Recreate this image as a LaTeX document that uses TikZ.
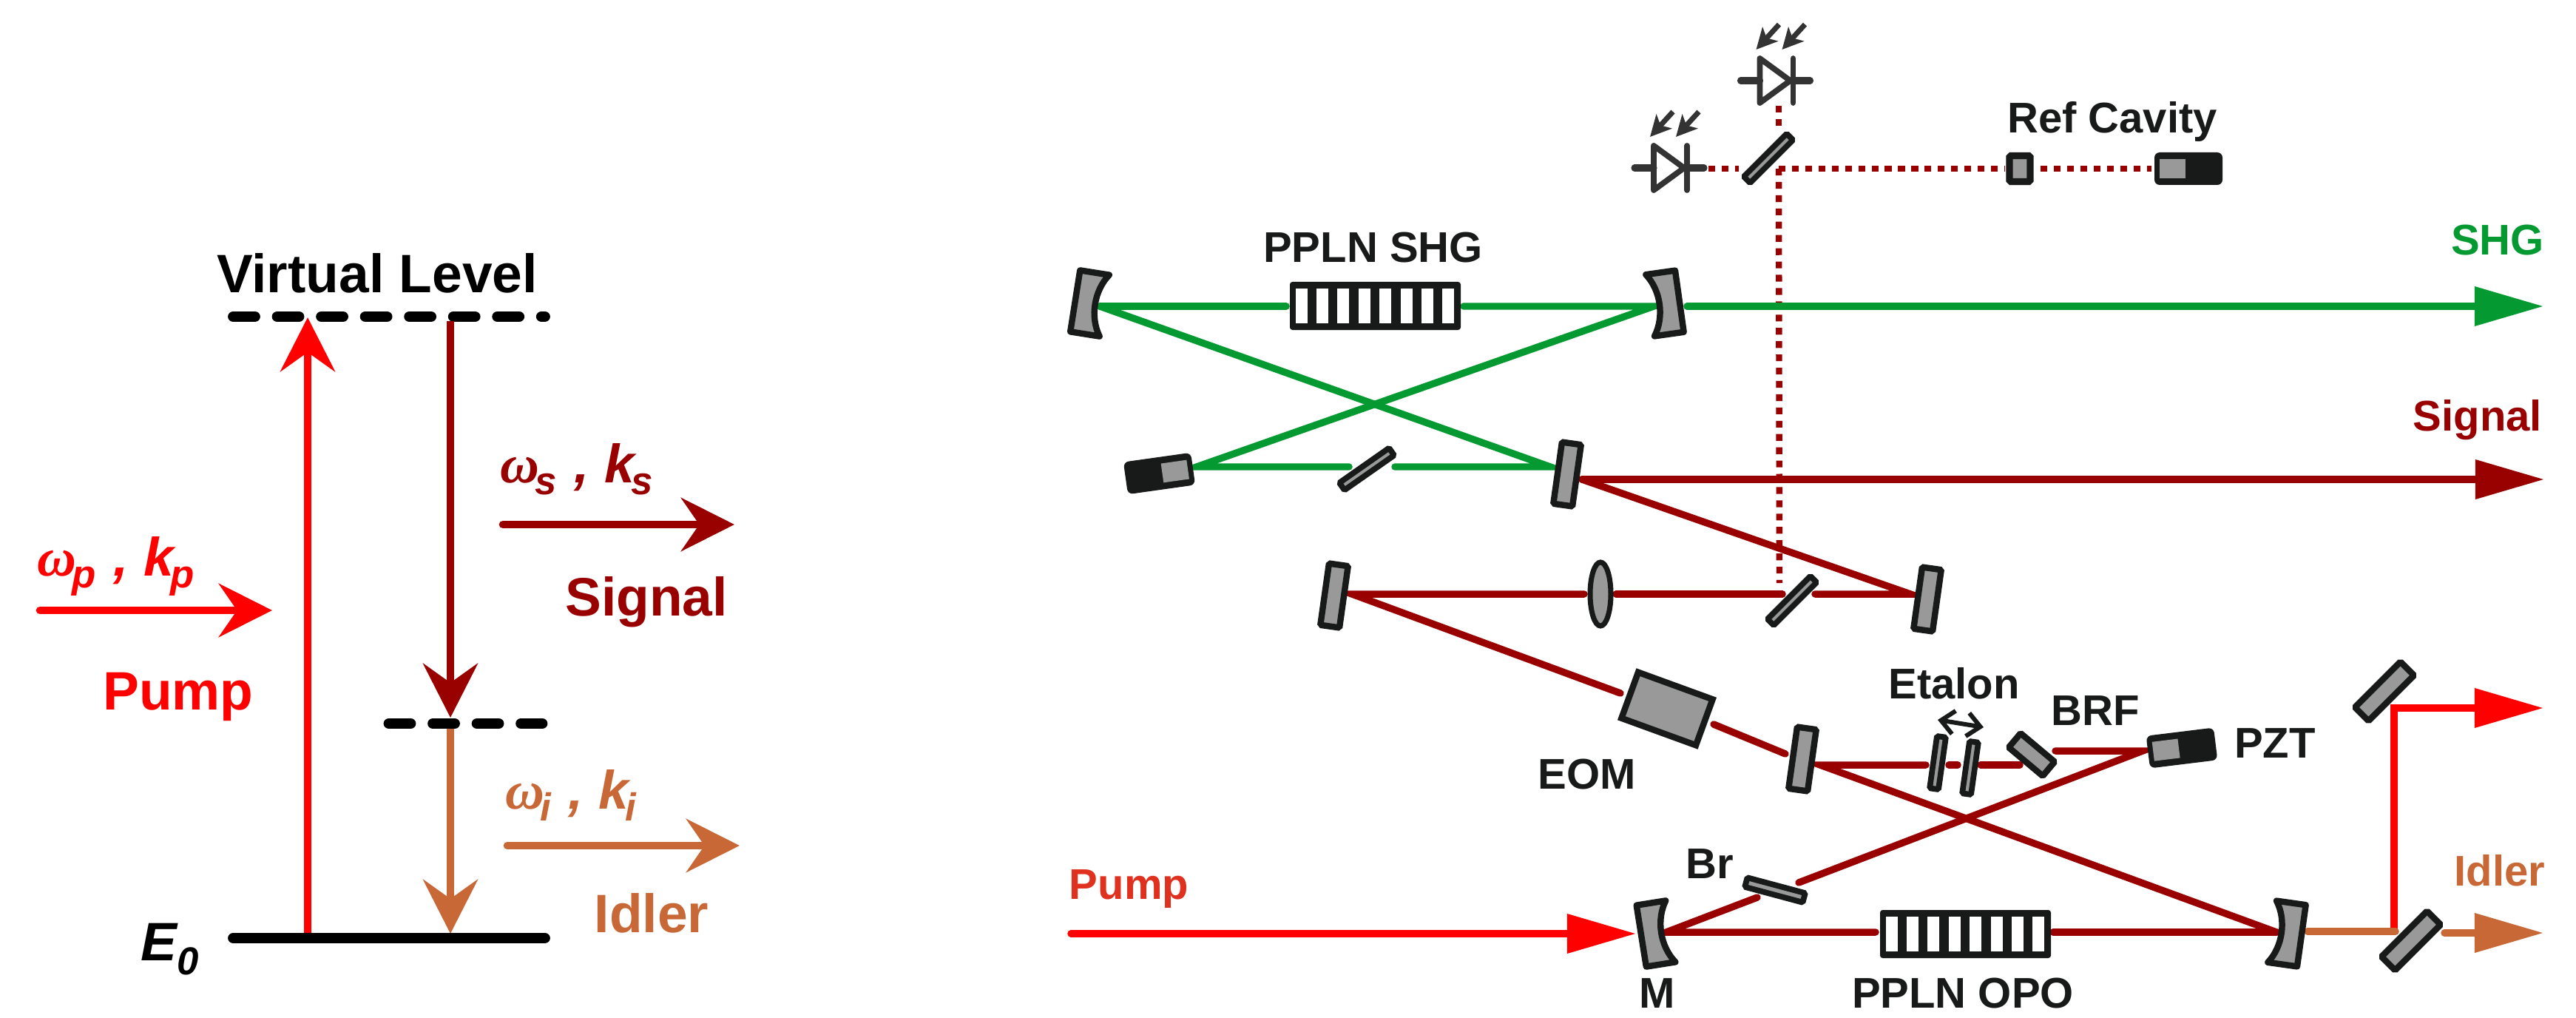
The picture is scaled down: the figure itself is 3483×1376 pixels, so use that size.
\documentclass[tikz,border=0pt]{standalone}
\usepackage{fontspec}
\setmainfont{Liberation Sans}
\newfontfamily\greekfont{Liberation Serif}
\usetikzlibrary{arrows.meta,shapes.geometric}
\definecolor{pumpred}{RGB}{255, 0, 0}
\definecolor{labelred}{RGB}{224, 48, 30}
\definecolor{signalred}{RGB}{153, 0, 0}
\definecolor{idlerorange}{RGB}{200, 104, 54}
\definecolor{shggreen}{RGB}{5, 153, 50}
\definecolor{bodydark}{RGB}{24, 26, 25}
\definecolor{bodygray}{RGB}{153, 153, 153}
\definecolor{diodedark}{RGB}{51, 51, 51}

\newcommand{\subfont}{\fontsize{15}{16}\selectfont}
\newcommand{\wavelabel}[1]{{\greekfont ω}\hspace{-0.08em}\raisebox{-0.23em}{\subfont #1}\hspace{0.32em},\hspace{0.28em}k\hspace{-0.06em}\raisebox{-0.23em}{\subfont #1}}

\tikzset{
  biglabel/.style={inner sep=0, anchor=base, font=\fontsize{20.8}{25}\selectfont\bfseries},
  wavetext/.style={inner sep=0, anchor=base west, font=\fontsize{20.8}{25}\selectfont\bfseries\itshape},
  partlabel/.style={inner sep=0, anchor=base, text=bodydark, font=\fontsize{16.5}{20}\selectfont\bfseries},
  levelline/.style={black, line width=4.2pt, line cap=round},
  levelarrow/.style={line width=3.1pt, -{Stealth[length=20.8pt,width=21pt,inset=7.4pt]}},
  smallarrow/.style={line width=3pt, line cap=round, -{Stealth[length=20.5pt,width=20.5pt,inset=7pt]}},
  beam/.style={line width=2.7pt, line cap=round},
  dotbeam/.style={signalred, line width=2.4pt, dash pattern=on 2.6pt off 2.5pt},
  outarrow/.style={beam, -{Triangle[length=26.5pt,width=14.6pt]}},
  optic/.style={draw=bodydark, fill=bodygray, inner sep=0, line width=2.4pt, rounded corners=0.5pt},
  flatmirror/.style={optic, minimum width=0.26cm, minimum height=0.84cm},
  dichroic/.style={optic, minimum width=0.26cm, minimum height=0.87cm},
  thinplate/.style={optic, line width=2.2pt, minimum width=0.12cm, minimum height=0.82cm},
  etalonplate/.style={optic, line width=2.2pt, minimum width=0.12cm, minimum height=0.71cm},
  crystal/.pic={
    \fill[bodydark, rounded corners=1pt] (-115.5,-32.5) rectangle (115.5,32.5);
    \foreach \w in {0,...,7} {
      \fill[white] (-108+28.4*\w,-23.5) rectangle (-92+28.4*\w,23.5);
    }
  },
  curvedmirror/.pic={
    \draw[draw=bodydark, fill=bodygray, line width=2.4pt, line join=round]
      (-20,-42) -- (20,-42) .. controls (3,-18) and (3,18) .. (20,42) -- (-20,42) -- cycle;
  },
  blockhead/.pic={
    \fill[bodydark, rounded corners=2pt] (-46,-22) rectangle (46,22);
    \fill[bodygray] (-39,-13) rectangle (-4,13);
  },
  photodiode/.pic={
    \draw[diodedark, line width=2.6pt, line cap=round] (-47,0) -- (-21,0) (24,0) -- (47,0);
    \draw[diodedark, line width=2.2pt, line join=round, line cap=round] (-21,-30) -- (20,0) -- (-21,30) -- cycle;
    \draw[diodedark, line width=2.2pt, line cap=round] (24,-30) -- (24,30);
    \foreach \a in {0,35} {
      \draw[diodedark, line width=2pt, -{Stealth[length=8pt,width=8pt,inset=2pt]}]
        (5+\a,-76) -- (-26+\a,-42);
    }
  }
}

\begin{document}
\begin{tikzpicture}[x=0.01cm, y=-0.01cm]
\useasboundingbox (0,0) rectangle (3483,1376);

% Energy levels
\coordinate (vl) at (315.5,428);
\coordinate (vr) at (736.5,428);
\coordinate (ml) at (526,978);
\coordinate (mr) at (733,978);
\coordinate (gl) at (315.5,1268);
\coordinate (gr) at (736.5,1268);
\draw[levelline, dash pattern=on 8.25pt off 8.68pt] (vl) -- (vr);
\draw[levelline, dash pattern=on 8.25pt off 8.68pt] (ml) -- (mr);
\coordinate (pa) at (416,1262);
\coordinate (pb) at (416,429);
\coordinate (sa) at (609,434);
\coordinate (sb) at (609,970);
\coordinate (ia) at (609,985);
\coordinate (ib) at (609,1262);
\draw[levelarrow, pumpred] (pa) -- (pb);
\draw[levelarrow, signalred] (sa) -- (sb);
\draw[levelarrow, idlerorange] (ia) -- (ib);
\draw[levelline] (gl) -- (gr);

% Level arrows and their labels
\coordinate (wpa) at (54,825);
\coordinate (wpb) at (368,825);
\coordinate (wsa) at (680,709);
\coordinate (wsb) at (993,709);
\coordinate (wia) at (686,1143);
\coordinate (wib) at (1000,1143);
\draw[smallarrow, pumpred] (wpa) -- (wpb);
\draw[smallarrow, signalred] (wsa) -- (wsb);
\draw[smallarrow, idlerorange] (wia) -- (wib);
\node[biglabel] (lvirtual) at (510,396) {Virtual Level};
\node[biglabel, text=pumpred] (lpump) at (241,959) {Pump};
\node[biglabel, text=signalred] (lsignal) at (874,832) {Signal};
\node[biglabel, text=idlerorange] (lidler) at (881,1260) {Idler};
\node[wavetext, text=pumpred] (lwp) at (50,778) {\wavelabel{p}};
\node[wavetext, text=signalred] (lws) at (676,652) {\wavelabel{s}};
\node[wavetext, text=idlerorange] (lwi) at (683,1093) {\wavelabel{i}};
\node[wavetext] (lzero) at (190,1298) {E\raisebox{-0.27em}{\subfont 0}};

% Reference arm
\coordinate (d1) at (2405,228);
\coordinate (d2) at (2711,228);
\coordinate (d3) at (2759,228);
\coordinate (d4) at (2909,228);
\coordinate (d5) at (2310,228);
\coordinate (d6) at (2351,228);
\coordinate (d7) at (2405,143);
\coordinate (d8) at (2405,175);
\coordinate (d9) at (2406,788);
\draw[dotbeam] (d1) -- (d2);
\draw[dotbeam] (d3) -- (d4);
\draw[dotbeam] (d5) -- (d6);
\draw[dotbeam] (d7) -- (d8);
\draw[dotbeam] (d1) -- (d9);

% SHG cavity
\coordinate (g1) at (1487,414);
\coordinate (g2) at (1739,414);
\coordinate (g3) at (1979,414);
\coordinate (g4) at (2236,414);
\coordinate (g5) at (2281,414);
\coordinate (g6) at (3439,414);
\coordinate (g7) at (2096,631);
\coordinate (g8) at (1618,631);
\coordinate (g9) at (1824,631);
\coordinate (g10) at (1886,631);
\draw[beam, shggreen] (g1) -- (g2);
\draw[beam, shggreen] (g3) -- (g4) -- (g8) -- (g9);
\draw[beam, shggreen] (g10) -- (g7) -- (g1);
\draw[outarrow, shggreen] (g5) -- (g6);

% Signal path
\coordinate (r1) at (2139,648);
\coordinate (r2) at (3440,648);
\coordinate (r3) at (2583,803);
\coordinate (r4) at (2454,803);
\coordinate (r5) at (2410,803);
\coordinate (r6) at (2185,803);
\coordinate (r7) at (2142,803);
\coordinate (r8) at (1828,803);
\coordinate (r9) at (2191,937);
\coordinate (r10) at (2317,979);
\coordinate (r11) at (2414,1019);
\draw[outarrow, signalred] (r1) -- (r2);
\draw[beam, signalred] (r1) -- (r3) -- (r4);
\draw[beam, signalred] (r5) -- (r6);
\draw[beam, signalred] (r7) -- (r8) -- (r9);
\draw[beam, signalred] (r10) -- (r11);

% OPO cavity
\coordinate (o1) at (2461,1034);
\coordinate (o2) at (2604,1034);
\coordinate (o3) at (2635,1034);
\coordinate (o4) at (2647,1034);
\coordinate (o5) at (2678,1034);
\coordinate (o6) at (2731,1034);
\coordinate (o7) at (2779,1015);
\coordinate (o8) at (2897,1015);
\coordinate (o9) at (2432,1193);
\coordinate (o10) at (2376,1213);
\coordinate (o11) at (2253,1260);
\coordinate (o12) at (2536,1260);
\coordinate (o13) at (2776,1260);
\coordinate (o14) at (3078,1260);
\draw[beam, signalred] (o14) -- (o1) -- (o2);
\draw[beam, signalred] (o3) -- (o4);
\draw[beam, signalred] (o5) -- (o6);
\draw[beam, signalred] (o7) -- (o8) -- (o9);
\draw[beam, signalred] (o10) -- (o11) -- (o12);
\draw[beam, signalred] (o13) -- (o14);

% Pump and idler outputs
\coordinate (p1) at (1448,1262);
\coordinate (p2) at (2212,1262);
\coordinate (p3) at (3237,1255);
\coordinate (p4) at (3439,957);
\coordinate (i1) at (3120,1259);
\coordinate (i2) at (3239,1259);
\coordinate (i3) at (3305,1261);
\coordinate (i4) at (3439,1261);
\draw[outarrow, pumpred] (p1) -- (p2);
\draw[outarrow, pumpred] (p3) |- (p4);
\draw[beam, idlerorange] (i1) -- (i2);
\draw[outarrow, idlerorange] (i3) -- (i4);

% Curved mirrors
\pic[rotate=-9] (mc1) at (1473.5,410) {curvedmirror};
\pic[rotate=8, xscale=-1] (mc2) at (2251,410) {curvedmirror};
\pic[rotate=-8, xscale=-1] (mc3) at (3092,1262) {curvedmirror};
\pic[rotate=9] (mc4) at (2239,1262) {curvedmirror};

% Flat mirrors, plates and the rest
\node[flatmirror, rotate=-8] (mf1) at (2119,641) {};
\node[flatmirror, rotate=-8] (mf2) at (2606,810) {};
\node[flatmirror, rotate=-8] (mf3) at (1804,805) {};
\node[flatmirror, rotate=-8] (mf4) at (2437,1026) {};
\node[thinplate, rotate=-55] (bs1) at (1848,634) {};
\node[thinplate, rotate=-45] (bs2) at (2391,214) {};
\node[thinplate, rotate=-45] (bs3) at (2423,812) {};
\node[dichroic, rotate=-45] (ds1) at (3224,934.5) {};
\node[dichroic, rotate=-45] (ds2) at (3260,1271.5) {};
\node[etalonplate, rotate=-8] (et1) at (2620,1031) {};
\node[etalonplate, rotate=-8] (et2) at (2664,1038) {};
\node[optic, rotate=50, minimum width=0.25cm, minimum height=0.6cm] (brf) at (2747,1020) {};
\node[optic, rotate=-15, line width=2.2pt, minimum width=0.81cm, minimum height=0.13cm] (brew) at (2400,1203) {};
\node[optic, rotate=-20, rounded corners=0pt, minimum width=1.07cm, minimum height=0.66cm] (eom) at (2254,958) {};
\node[draw=bodydark, fill=bodygray, ellipse, inner sep=0, line width=2pt, minimum width=0.28cm, minimum height=0.86cm] (lens) at (2164,803) {};
\node[optic, line width=2.6pt, minimum width=0.28cm, minimum height=0.35cm] (refbox) at (2731,228) {};

% Crystals
\pic (xshg) at (1859.5,413.5) {crystal};
\pic (xopo) at (2657.5,1262.5) {crystal};

% Piezo heads
\pic (hd1) at (2959,228) {blockhead};
\pic[rotate=7] (hd2) at (2950,1011) {blockhead};
\pic[rotate=8, xscale=-1] (hd3) at (1567.5,640) {blockhead};

% Detectors
\pic (pd1) at (2400.5,109) {photodiode};
\pic (pd2) at (2257,227) {photodiode};

% Etalon motion
\coordinate (e1) at (2620,973);
\coordinate (e2) at (2682,983);
\draw[bodydark, line width=1.7pt, {Straight Barb[length=5pt,width=9pt]}-{Straight Barb[length=5pt,width=9pt]}] (e1) -- (e2);

% Part labels
\node[partlabel] (lref) at (2856,180) {Ref Cavity};
\node[partlabel] (lshgx) at (1856.5,355) {PPLN SHG};
\node[partlabel] (leom) at (2145.5,1066) {EOM};
\node[partlabel] (letalon) at (2642,944) {Etalon};
\node[partlabel] (lbrf) at (2833,980) {BRF};
\node[partlabel] (lpzt) at (3076,1024) {PZT};
\node[partlabel] (lbr) at (2312,1187) {Br};
\node[partlabel] (lm) at (2240.5,1362) {M};
\node[partlabel] (lopo) at (2654,1362) {PPLN OPO};
\node[partlabel, text=labelred] (lpumpin) at (1526.5,1215) {Pump};
\node[partlabel, text=shggreen] (lshgout) at (3377,344) {SHG};
\node[partlabel, text=signalred] (lsigout) at (3350,582) {Signal};
\node[partlabel, text=idlerorange] (lidlout) at (3380,1197) {Idler};

\end{tikzpicture}
\end{document}
